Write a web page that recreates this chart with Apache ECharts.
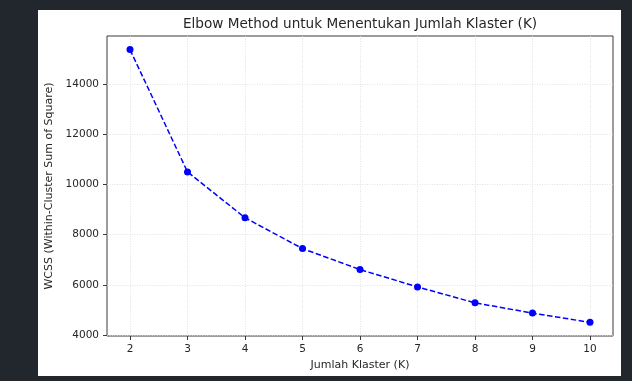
<!DOCTYPE html>
<html>
<head>
<meta charset="utf-8">
<script src="https://cdn.jsdelivr.net/npm/echarts@6/dist/echarts.min.js"></script>
<style>
    html, body { margin: 0; padding: 0; background: #22262d; }
    #paper { position: absolute; left: 38px; top: 10px; width: 583px; height: 366px; background: #ffffff; }
    #elbowChart { position: absolute; left: 0; top: 0; width: 632px; height: 381px; }
</style>
</head>
<body>
<div id="paper"></div>
<div id="elbowChart"></div>
<script>
    // jumlah klaster dan nilai WCSS
    const kValues = [2, 3, 4, 5, 6, 7, 8, 9, 10]
    const wcss = [15370, 10500, 8675, 7445, 6610, 5920, 5285, 4878, 4508]
    const yTicks = [4000, 6000, 8000, 10000, 12000, 14000]

    const axisColor = '#3a3a3a'
    const textColor = '#262626'
    const gridLine = {
        show: true,
        lineStyle: { color: '#d9d9d9', type: [1, 1.5], width: 0.8 }
    }

    const _elbowOption = {
        animation: false,
        title: {
            text: 'Elbow Method untuk Menentukan Jumlah Klaster (K)',
            left: 178,
            top: 12,
            textStyle: { fontFamily: 'DejaVu Sans', fontSize: 13.6, fontWeight: 'normal', color: textColor }
        },
        grid: {
            left: 107, right: 19, top: 36, bottom: 45,
            show: true, borderColor: axisColor, borderWidth: 1, backgroundColor: 'transparent'
        },
        xAxis: {
            type: 'value',
            min: 1.6,
            max: 10.4,
            name: 'Jumlah Klaster (K)',
            nameLocation: 'middle',
            nameGap: 23,
            nameTextStyle: { fontFamily: 'DejaVu Sans', fontSize: 11, color: textColor },
            axisLine: { show: false },
            axisTick: { show: true, length: 4, customValues: kValues, lineStyle: { color: axisColor } },
            axisLabel: { customValues: kValues, margin: 8, fontFamily: 'DejaVu Sans', fontSize: 10.5, color: textColor },
            splitLine: gridLine
        },
        yAxis: {
            type: 'value',
            min: 3965,
            max: 15912,
            name: 'WCSS (Within-Cluster Sum of Square)',
            nameLocation: 'middle',
            nameGap: 40,
            nameTextStyle: { fontFamily: 'DejaVu Sans', fontSize: 11, color: textColor },
            axisLine: { show: false },
            axisTick: { show: true, length: 4, customValues: yTicks, lineStyle: { color: axisColor } },
            axisLabel: {
                customValues: yTicks, margin: 8, fontFamily: 'DejaVu Sans', fontSize: 10.5, color: textColor,
                formatter: (v) => String(v)
            },
            splitLine: gridLine
        },
        series: [
            {
                type: 'line',
                data: kValues.map((k, i) => [k, wcss[i]]),
                symbol: 'circle',
                symbolSize: 7,
                lineStyle: { color: '#0000ff', width: 1.5, type: [5.5, 2.5] },
                itemStyle: { color: '#0000ff' }
            }
        ]
    }

    const elbowChart = echarts.init(document.getElementById('elbowChart'))
    elbowChart.setOption(_elbowOption)
    window.addEventListener('resize', () => elbowChart.resize())
</script>
</body>
</html>
